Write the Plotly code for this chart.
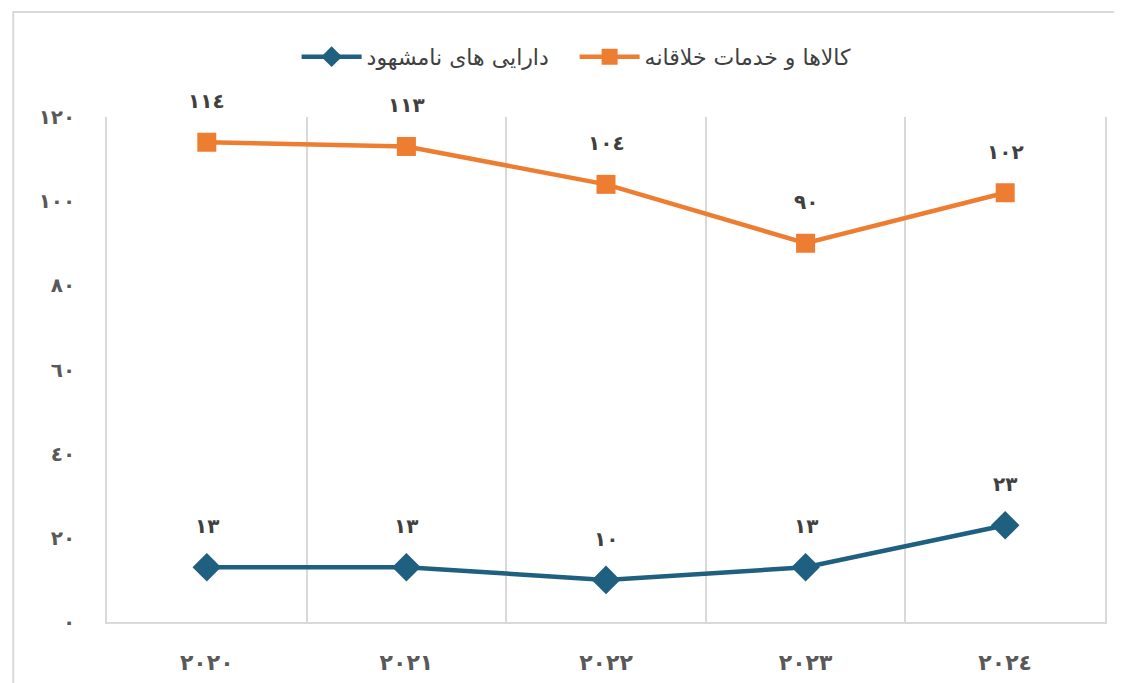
import plotly.graph_objects as go

years = ["2020", "2021", "2022", "2023", "2024"]
intangible = [13, 13, 10, 13, 23]
creative = [114, 113, 104, 90, 102]
y_ticks = [0, 20, 40, 60, 80, 100, 120]
name_intangible = "دارایی های نامشهود"
name_creative = "کالاها و خدمات خلاقانه"

DIG = "٠١٢٣٤٥٦٧٨٩"
def ar(v):
    return "".join(DIG[int(c)] if c.isdigit() else c for c in str(v))

cats = [ar(y) for y in years]

FONT = "DejaVu Sans"
GRAY = "#595959"
BLUE = "#1f5f80"
ORANGE = "#ed7d31"
GRID = "#d9d9d9"

fig = go.Figure()
fig.add_trace(go.Scatter(
    x=cats, y=intangible, name=name_intangible, mode="lines+markers",
    line=dict(color=BLUE, width=4.5),
    marker=dict(symbol="diamond", size=22, color=BLUE),
))
fig.add_trace(go.Scatter(
    x=cats, y=creative, name=name_creative, mode="lines+markers",
    line=dict(color=ORANGE, width=4.5),
    marker=dict(symbol="square", size=19, color=ORANGE),
))

for vals in (intangible, creative):
    for x, v in zip(cats, vals):
        fig.add_annotation(x=x, y=v, text="<b>" + ar(v) + "</b>", showarrow=False,
                           yshift=41, font=dict(family=FONT, size=20, color="#404040"))

fig.add_shape(type="rect", xref="paper", yref="paper",
              x0=-0.094, x1=1.2, y0=-0.3, y1=1.208,
              line=dict(color="#d9d9d9", width=2), fillcolor="rgba(0,0,0,0)")

fig.update_layout(
    width=1122, height=683,
    margin=dict(l=99, r=25, t=109, b=69),
    paper_bgcolor="white", plot_bgcolor="white",
    font=dict(family=FONT, color=GRAY),
    showlegend=True,
    legend=dict(orientation="h", x=0.19, xanchor="left", y=1.119, yanchor="middle",
                font=dict(family=FONT, size=22, color="#404040"),
                itemwidth=60, entrywidth=203, entrywidthmode="pixels"),
)
fig.update_xaxes(
    type="category", range=[-0.5, 4.5],
    tickson="boundaries", showgrid=True, gridcolor=GRID, gridwidth=1.5,
    showline=True, linecolor=GRID, linewidth=2,
    ticks="", tickfont=dict(family=FONT, size=22, color=GRAY, weight="bold"),
    ticklabelstandoff=20,
)
fig.update_yaxes(
    range=[0, 120], tickvals=y_ticks, ticktext=[ar(v) for v in y_ticks],
    showgrid=False, zeroline=False,
    showline=True, linecolor=GRID, linewidth=1.5, mirror=True,
    ticks="", tickfont=dict(family=FONT, size=20, color=GRAY, weight="bold"),
    ticklabelstandoff=26,
)

fig.write_html("out.html")
